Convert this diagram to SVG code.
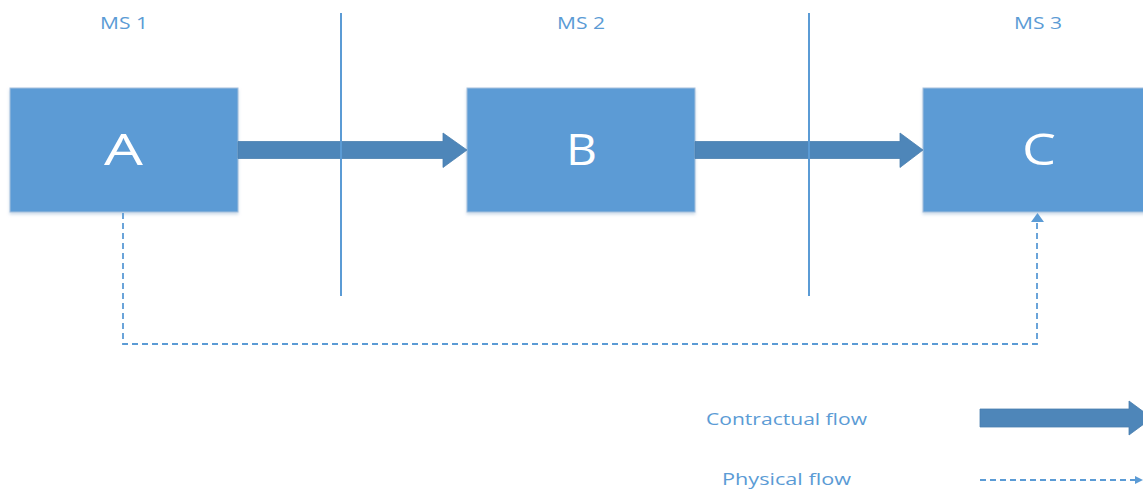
<svg xmlns="http://www.w3.org/2000/svg" width="1143" height="489" viewBox="0 0 1143 489">
<style>
.box{fill:#5B9BD5;stroke:#A7C1DD;stroke-width:1}
.big{font-family:"Open Sans","Liberation Sans",sans-serif;font-size:44px;fill:#FFFFFF}
.lbl{font-family:"Open Sans","Liberation Sans",sans-serif;font-size:17px;fill:#5B9BD5}
.fat{fill:#4E86B9;stroke:#4A7FAF;stroke-width:0.8}
.sep{stroke:#5B9BD5;stroke-width:2;fill:none}
.dash{stroke:#5B9BD5;stroke-width:1.8;fill:none;stroke-dasharray:6 4}
</style>
<defs>
<filter id="sh" x="-5%" y="-5%" width="110%" height="115%">
<feDropShadow dx="0" dy="2" stdDeviation="1.5" flood-color="#9BB7D4" flood-opacity="0.5"/>
</filter>
</defs>
<g id="labels">
<text class="lbl" x="100" y="29" textLength="48" lengthAdjust="spacingAndGlyphs">MS 1</text>
<text class="lbl" x="557" y="29" textLength="48" lengthAdjust="spacingAndGlyphs">MS 2</text>
<text class="lbl" x="1014" y="29" textLength="48" lengthAdjust="spacingAndGlyphs">MS 3</text>
</g>
<g id="separators">
<line class="sep" x1="341" y1="13" x2="341" y2="296"/>
<line class="sep" x1="809" y1="13" x2="809" y2="296"/>
</g>
<g id="node-A">
<rect class="box" filter="url(#sh)" x="10" y="88" width="228" height="124"/>
<text class="big" x="104" y="165" textLength="39" lengthAdjust="spacingAndGlyphs">A</text>
</g>
<g id="node-B">
<rect class="box" filter="url(#sh)" x="467" y="88" width="228" height="124"/>
<text class="big" x="566" y="165" textLength="31" lengthAdjust="spacingAndGlyphs">B</text>
</g>
<g id="node-C">
<rect class="box" filter="url(#sh)" x="923" y="88" width="228" height="124"/>
<text class="big" x="1022" y="165" textLength="34" lengthAdjust="spacingAndGlyphs">C</text>
</g>
<g id="connectors">
<polygon class="fat" points="238,141.5 443,141.5 443,133 467,150 443,167.5 443,158.5 238,158.5"/>
<polygon class="fat" points="695,141.5 900,141.5 900,133 923,150 900,167.5 900,158.5 695,158.5"/>
<path class="dash" d="M123,213 V344 H1037 V221"/>
<polygon points="1031,222 1037.5,213 1044,222" fill="#5B9BD5"/>
<line class="sep" x1="341" y1="130" x2="341" y2="170"/>
<line class="sep" x1="809" y1="130" x2="809" y2="170"/>
</g>
<g id="legend">
<text class="lbl" x="706" y="425" textLength="161" lengthAdjust="spacingAndGlyphs">Contractual flow</text>
<text class="lbl" x="722" y="485" textLength="129" lengthAdjust="spacingAndGlyphs">Physical flow</text>
<polygon class="fat" points="980,409 1129,409 1129,401 1152,418 1129,435 1129,427 980,427"/>
<line class="dash" x1="980" y1="480" x2="1135" y2="480"/>
<polygon points="1135,476 1143,480 1135,484" fill="#5B9BD5"/>
</g>
</svg>
